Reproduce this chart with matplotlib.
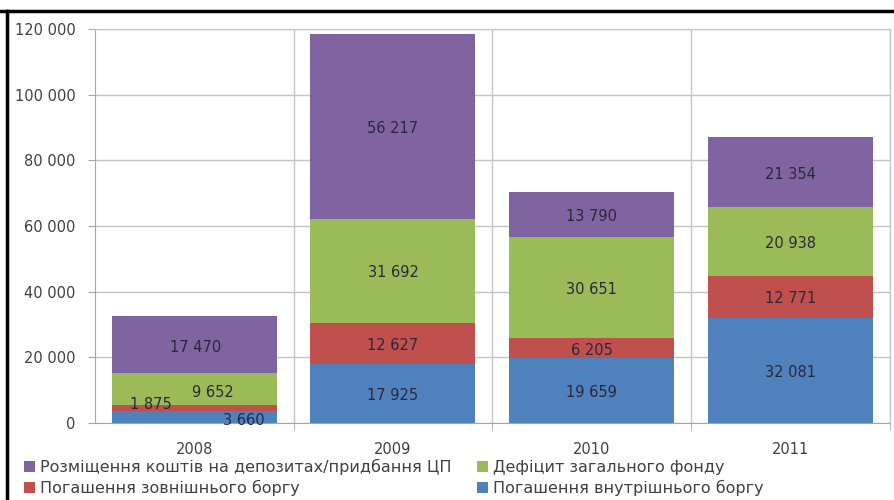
import matplotlib
matplotlib.use("Agg")
import matplotlib.pyplot as plt
from matplotlib.lines import Line2D
from matplotlib.ticker import FuncFormatter
import numpy as np

plt.rcParams['font.family'] = ['DejaVu Sans']

years = ["2008", "2009", "2010", "2011"]
internal_debt = [3660, 17925, 19659, 32081]    # Погашення внутрішнього боргу
external_debt = [1875, 12627, 6205, 12771]     # Погашення зовнішнього боргу
deficit = [9652, 31692, 30651, 20938]          # Дефіцит загального фонду
deposits = [17470, 56217, 13790, 21354]        # Розміщення коштів на депозитах/придбання ЦП

series = [
    ("Погашення внутрішнього боргу", internal_debt, "#4F81BD"),
    ("Погашення зовнішнього боргу", external_debt, "#C0504D"),
    ("Дефіцит загального фонду", deficit, "#9BBB59"),
    ("Розміщення коштів на депозитах/придбання ЦП", deposits, "#8064A2"),
]

# label shifts (points) for the thin 2008 segments
shift_2008 = [(36, -2.2), (-31, 2.2), (13.7, -2.2), (1, -2.2)]

def fmt_num(v, pos=None):
    return f"{int(v):,}".replace(",", " ")

fig = plt.figure(figsize=(8.94, 5.0), dpi=100)
ax = fig.add_axes([0.106, 0.154, 0.8895, 0.788])

x = np.arange(len(years))
bottom = np.zeros(len(years))
bars = []
for k, (name, vals, color) in enumerate(series):
    bars.append(ax.bar(x, vals, 0.83, bottom=bottom, color=color, label=name, zorder=2))
    for i, v in enumerate(vals):
        dx, dy = shift_2008[k] if i == 0 else (0, -1.5)
        ax.annotate(fmt_num(v), (x[i], bottom[i] + v / 2), xytext=(dx, dy),
                    textcoords="offset points", ha="center", va="center",
                    fontsize=10.5, color="#2a2838", zorder=3)
    bottom += np.array(vals)

ax.set_xlim(-0.5, 3.5)
ax.set_ylim(0, 120000)
ax.set_yticks(np.arange(0, 120001, 20000))
ax.yaxis.set_major_formatter(FuncFormatter(fmt_num))
ax.set_xticks(x)
ax.set_xticklabels(years)
ax.set_xticks([0.5, 1.5, 2.5, 3.5], minor=True)

ax.tick_params(axis="y", length=5, color="#A6A6A6", labelsize=10.5, labelcolor="#404040", pad=9)
ax.tick_params(axis="x", which="major", length=0, labelsize=10.5, labelcolor="#404040", pad=14)
ax.tick_params(axis="x", which="minor", length=5, color="#A6A6A6")

ax.grid(axis="y", color="#C4C4C4", linewidth=1, zorder=0)
ax.grid(axis="x", which="minor", color="#C4C4C4", linewidth=1, zorder=0)
ax.set_axisbelow(True)
for side in ["right", "top"]:
    ax.spines[side].set_color("#C4C4C4")
ax.spines["left"].set_color("#A6A6A6")
ax.spines["bottom"].set_color("#A6A6A6")

leg_order = [3, 1, 2, 0]
fig.legend([bars[k] for k in leg_order], [series[k][0] for k in leg_order],
           ncol=2, loc="upper left", bbox_to_anchor=(0.027, 0.082),
           frameon=False, fontsize=11.5, handlelength=0.7, handleheight=0.7,
           handletextpad=0.3, labelspacing=0.3, columnspacing=1.6,
           borderaxespad=0, borderpad=0, labelcolor="#404040")

# black frame on the top and left edges
fig.add_artist(Line2D([0.0, 1.0], [0.978, 0.978], color="black", linewidth=2.5))
fig.add_artist(Line2D([0.008, 0.008], [0.0, 0.978], color="black", linewidth=2.5))

fig.savefig("out.png", dpi=100)
